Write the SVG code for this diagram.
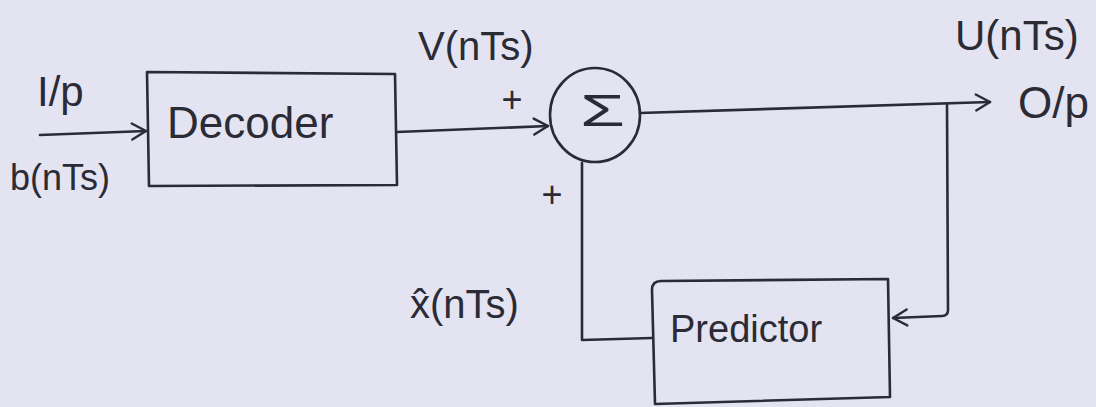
<svg xmlns="http://www.w3.org/2000/svg" width="1096" height="407" viewBox="0 0 1096 407">
  <defs>
    <style>
      .ink { fill: none; stroke: #2b2b36; stroke-width: 2.6; stroke-linecap: round; stroke-linejoin: round; }
      .lbl { font-family: "Liberation Sans", Arial, sans-serif; fill: #2b2b36; }
    </style>
    <marker id="arr" viewBox="0 0 20 20" refX="18" refY="10" markerWidth="20" markerHeight="20" markerUnits="userSpaceOnUse" orient="auto">
      <path d="M4,2 L18,10 L4,18" fill="none" stroke="#2b2b36" stroke-width="2.4" stroke-linecap="round" stroke-linejoin="round"/>
    </marker>
  </defs>
  <rect width="1096" height="407" fill="#e3e3f1"/>

  <g id="connectors">
    <path class="ink" d="M40,135 L146,131" marker-end="url(#arr)"/>
    <path class="ink" d="M397,132 L548,126" marker-end="url(#arr)"/>
    <path class="ink" d="M640,113 L990,102" marker-end="url(#arr)"/>
    <path class="ink" d="M947,104 L948,310 Q948,316 942,316 L893,318" marker-end="url(#arr)"/>
    <path class="ink" d="M652,338 L582,340 L582,163"/>
  </g>

  <g id="input-label">
    <text class="lbl" x="37" y="106" font-size="42">I/p</text>
    <text class="lbl" x="10" y="190" font-size="36">b(nTs)</text>
  </g>

  <g id="decoder">
    <path class="ink" d="M147,72 L395,74 L397,185 L149,186 Z"/>
    <text class="lbl" x="167" y="138" font-size="44">Decoder</text>
  </g>

  <g id="v-label">
    <text class="lbl" x="418" y="60" font-size="40">V(nTs)</text>
    <text class="lbl" x="512" y="112" font-size="36" text-anchor="middle">+</text>
    <text class="lbl" x="552" y="207" font-size="36" text-anchor="middle">+</text>
  </g>

  <g id="summer">
    <ellipse class="ink" cx="595" cy="115" rx="45" ry="47"/>
    <text class="lbl" x="580" y="126" font-size="44" textLength="45" lengthAdjust="spacingAndGlyphs">Σ</text>
  </g>

  <g id="output-label">
    <text class="lbl" x="955" y="50" font-size="42">U(nTs)</text>
    <text class="lbl" x="1018" y="118" font-size="44">O/p</text>
  </g>

  <g id="xhat-label">
    <text class="lbl" x="410" y="318" font-size="40">x̂(nTs)</text>
  </g>

  <g id="predictor">
    <path class="ink" d="M652,290 Q652,281 661,281 L888,279 L890,397 L655,404 Z"/>
    <text class="lbl" x="670" y="342" font-size="38">Predictor</text>
  </g>
</svg>
